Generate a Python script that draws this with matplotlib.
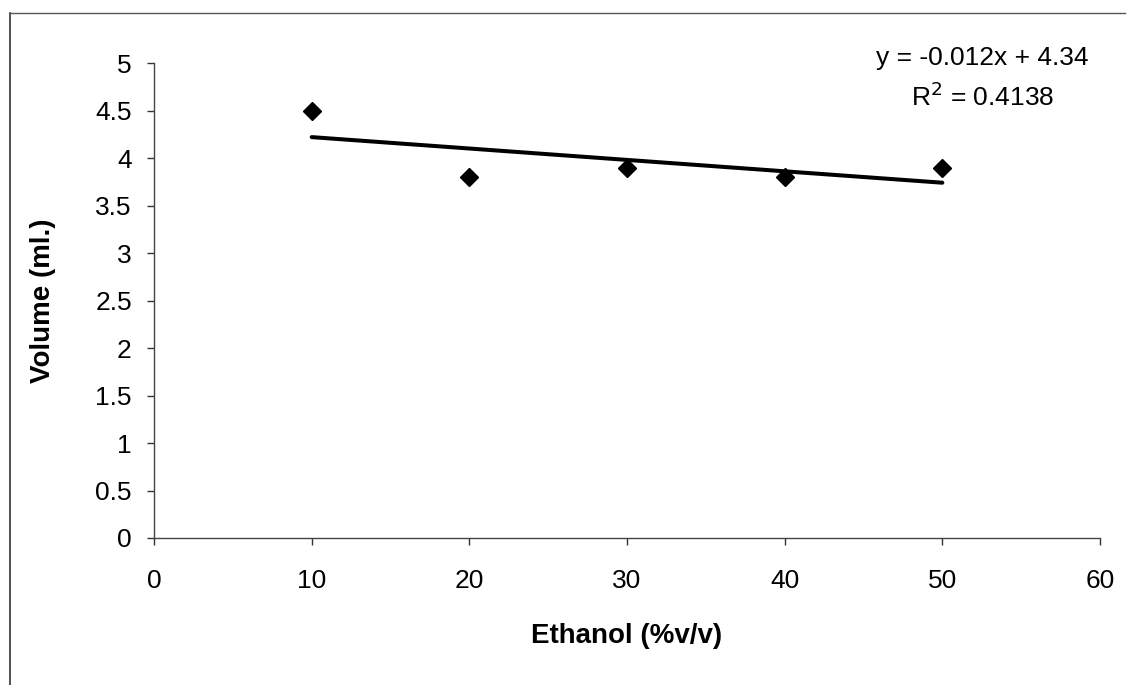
import matplotlib
matplotlib.use("Agg")
import matplotlib.pyplot as plt
import numpy as np
from matplotlib.lines import Line2D

plt.rcParams['font.family'] = ['Liberation Sans', 'DejaVu Sans']

ethanol = [10, 20, 30, 40, 50]
volume = [4.5, 3.8, 3.9, 3.8, 3.9]
slope = -0.012
intercept = 4.34
x_ticks = [0, 10, 20, 30, 40, 50, 60]
y_ticks = [0, 0.5, 1, 1.5, 2, 2.5, 3, 3.5, 4, 4.5, 5]

fig = plt.figure(figsize=(11.31, 6.85), dpi=100)
ax = fig.add_axes([0.1362, 0.2146, 0.8364, 0.6934])

# trend line
xs = np.array([ethanol[0], ethanol[-1]])
ax.plot(xs, slope * xs + intercept, color='black', linewidth=2.9, solid_capstyle='round')
ax.plot(ethanol, volume, linestyle='none', marker='D', markersize=9, color='black')

ax.set_xlim(0, 60)
ax.set_ylim(0, 5)
ax.set_xticks(x_ticks)
ax.set_yticks(y_ticks)
ax.set_yticklabels([f"{v:g}" for v in y_ticks])
ax.tick_params(axis='both', labelsize=19, direction='out', length=5, color='#333333', width=1)
ax.tick_params(axis='x', pad=17)
ax.tick_params(axis='y', pad=11)

for s in ['top', 'right']:
    ax.spines[s].set_visible(False)
for s in ['left', 'bottom']:
    ax.spines[s].set_color('#444444')
    ax.spines[s].set_linewidth(1)

ax.set_xlabel('Ethanol (%v/v)', fontsize=20, fontweight='bold', labelpad=22)
ax.set_ylabel('Volume (ml.)', fontsize=20, fontweight='bold', labelpad=28)

ax.text(0.876, 1.0105, 'y = -0.012x + 4.34', transform=ax.transAxes, fontsize=19, ha='center', va='center')
ax.text(0.876, 0.93, 'R$^2$ = 0.4138', transform=ax.transAxes, fontsize=19, ha='center', va='center')

# scanned frame
fig.add_artist(Line2D([10/1131, 10/1131], [0, 1 - 13/685], color='#333333', linewidth=1.2, transform=fig.transFigure))
fig.add_artist(Line2D([10/1131, 1125/1131], [1 - 13/685, 1 - 13/685], color='#555555', linewidth=1, transform=fig.transFigure))

fig.savefig('out.png', dpi=100)
